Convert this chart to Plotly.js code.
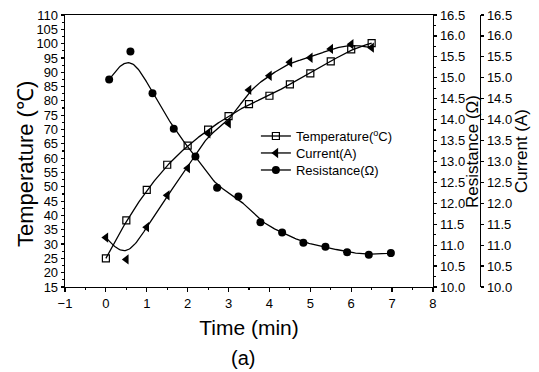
<!DOCTYPE html>
<html>
<head>
<meta charset="utf-8">
<script src="https://cdn.plot.ly/plotly-3.0.1.min.js"></script>
<style>html,body{margin:0;padding:0;background:#fff;}#chart{width:539px;height:372px;}</style>
</head>
<body>
<div id="chart"></div>
<script>
// Data
const tempTime = [0, 0.5, 1, 1.5, 2, 2.5, 3, 3.5, 4, 4.5, 5, 5.5, 6, 6.5];
const temperature = [25, 38.3, 48.9, 57.7, 64.4, 70, 74.7, 78.9, 81.8, 85.8, 89.6, 93.8, 98, 100.2];

const currTime = [0, 0.5, 1, 1.5, 2, 2.5, 3, 3.5, 4, 4.5, 5, 5.5, 6, 6.5];
const current = [11.18, 10.66, 11.43, 12.19, 12.84, 13.67, 13.91, 14.71, 15.05, 15.37, 15.48, 15.69, 15.8, 15.72];

const resTime = [0.08, 0.6, 1.14, 1.66, 2.19, 2.72, 3.24, 3.78, 4.31, 4.83, 5.37, 5.9, 6.43, 6.97];
const resistance = [14.96, 15.63, 14.63, 13.78, 13.12, 12.37, 12.16, 11.55, 11.30, 11.06, 10.96, 10.83, 10.77, 10.81];

const seriesNames = ['Temperature(<sup>o</sup>C)', 'Current(A)', 'Resistance(Ω)'];

// Clamped uniform cubic B-spline smoothing of the data (as in the original fit curves)
function bspline(xs, ys, steps) {
  const px = [xs[0], xs[0]].concat(xs, [xs[xs.length-1], xs[xs.length-1]]);
  const py = [ys[0], ys[0]].concat(ys, [ys[ys.length-1], ys[ys.length-1]]);
  const ox = [], oy = [];
  for (let i = 0; i + 3 < px.length; i++) {
    for (let s = 0; s <= steps; s++) {
      if (i > 0 && s === 0) continue;
      const t = s / steps;
      const b0 = (1 - t) ** 3 / 6;
      const b1 = (3 * t ** 3 - 6 * t ** 2 + 4) / 6;
      const b2 = (-3 * t ** 3 + 3 * t ** 2 + 3 * t + 1) / 6;
      const b3 = t ** 3 / 6;
      ox.push(b0 * px[i] + b1 * px[i+1] + b2 * px[i+2] + b3 * px[i+3]);
      oy.push(b0 * py[i] + b1 * py[i+1] + b2 * py[i+2] + b3 * py[i+3]);
    }
  }
  return [ox, oy];
}

const tFit = bspline(tempTime, temperature, 20);
const cFit = bspline(currTime, current, 20);
const rFit = bspline(resTime, resistance, 20);

const lineStyle = {color: '#000', width: 1.3};
const font = 'Arial, "Liberation Sans", sans-serif';
const mTemp = {symbol: 'square-open', size: 7, color: '#000', line: {width: 1.2}};
const mCurr = {symbol: 'triangle-left', size: 9, color: '#000'};
const mRes = {symbol: 'circle', size: 8, color: '#000'};

const traces = [
  {x: tFit[0], y: tFit[1], mode: 'lines', line: lineStyle, yaxis: 'y', showlegend: false, hoverinfo: 'skip'},
  {x: cFit[0], y: cFit[1], mode: 'lines', line: lineStyle, yaxis: 'y3', showlegend: false, hoverinfo: 'skip'},
  {x: rFit[0], y: rFit[1], mode: 'lines', line: lineStyle, yaxis: 'y2', showlegend: false, hoverinfo: 'skip'},
  {x: tempTime, y: temperature, mode: 'markers', yaxis: 'y', showlegend: false, marker: mTemp},
  {x: currTime, y: current, mode: 'markers', yaxis: 'y3', showlegend: false, marker: mCurr},
  {x: resTime, y: resistance, mode: 'markers', yaxis: 'y2', showlegend: false, marker: mRes},
  // legend entries (one per legend so rows can be spaced like the reference)
  {x: [null], y: [null], mode: 'lines+markers', name: seriesNames[0], line: lineStyle, marker: mTemp, legend: 'legend'},
  {x: [null], y: [null], mode: 'lines+markers', name: seriesNames[1], line: lineStyle, marker: mCurr, legend: 'legend2'},
  {x: [null], y: [null], mode: 'lines+markers', name: seriesNames[2], line: lineStyle, marker: mRes, legend: 'legend3'}
];

const axisCommon = {
  showgrid: false, zeroline: false, showline: true, linecolor: '#000', linewidth: 1.3,
  ticks: 'outside', tickcolor: '#000', tickwidth: 1.2, ticklen: 4,
  tickfont: {family: font, size: 13, color: '#000'}
};

function legendAt(y) {
  return {x: 0.46, y: y, xanchor: 'left', yanchor: 'middle', bgcolor: 'rgba(0,0,0,0)',
          font: {family: font, size: 13, color: '#000'}};
}

const layout = {
  width: 539, height: 372,
  margin: {l: 65, r: 59, t: 15, b: 85},
  paper_bgcolor: '#fff', plot_bgcolor: '#fff',
  font: {family: font, color: '#000'},
  xaxis: Object.assign({}, axisCommon, {
    domain: [0, 0.8867], range: [-1, 8], dtick: 1, tick0: 0, mirror: true,
    minor: {dtick: 0.5, ticks: 'outside', ticklen: 2, tickcolor: '#000'},
    title: {text: 'Time (min)', font: {family: font, size: 21, color: '#000'}, standoff: 10}
  }),
  yaxis: Object.assign({}, axisCommon, {
    range: [15, 110], dtick: 5, tick0: 15, ticklen: 3,
    minor: {dtick: 2.5, ticks: 'outside', ticklen: 2, tickcolor: '#000'}
  }),
  yaxis2: Object.assign({}, axisCommon, {
    overlaying: 'y', side: 'right', anchor: 'x', range: [10, 16.5], dtick: 0.5, tick0: 10,
    tickformat: '.1f', ticklen: 3,
    minor: {dtick: 0.25, ticks: 'outside', ticklen: 2, tickcolor: '#000'}
  }),
  yaxis3: Object.assign({}, axisCommon, {
    overlaying: 'y', side: 'right', anchor: 'free', position: 1, range: [10, 16.5], dtick: 0.5, tick0: 10,
    tickformat: '.1f', ticklen: 3,
    title: {text: 'Current (A)', font: {family: font, size: 17, color: '#000'}, standoff: 4}
  }),
  legend: legendAt(0.555),
  legend2: legendAt(0.4926),
  legend3: legendAt(0.430),
  annotations: [
    {text: 'Temperature (℃)', xref: 'paper', yref: 'paper', x: -0.0964, y: 0.452,
     xanchor: 'center', yanchor: 'middle', textangle: -90, showarrow: false,
     font: {family: font, size: 22, color: '#000'}},
    {text: 'Resistance (Ω)', xref: 'paper', yref: 'paper', x: 0.9805, y: 0.5,
     xanchor: 'center', yanchor: 'middle', textangle: -90, showarrow: false,
     font: {family: font, size: 17, color: '#000'}},
    {text: '(a)', xref: 'paper', yref: 'paper', x: 0.429, y: -0.261, yanchor: 'middle', showarrow: false,
     font: {family: font, size: 20, color: '#000'}}
  ]
};

Plotly.newPlot('chart', traces, layout, {staticPlot: true, displayModeBar: false});
</script>
</body>
</html>
